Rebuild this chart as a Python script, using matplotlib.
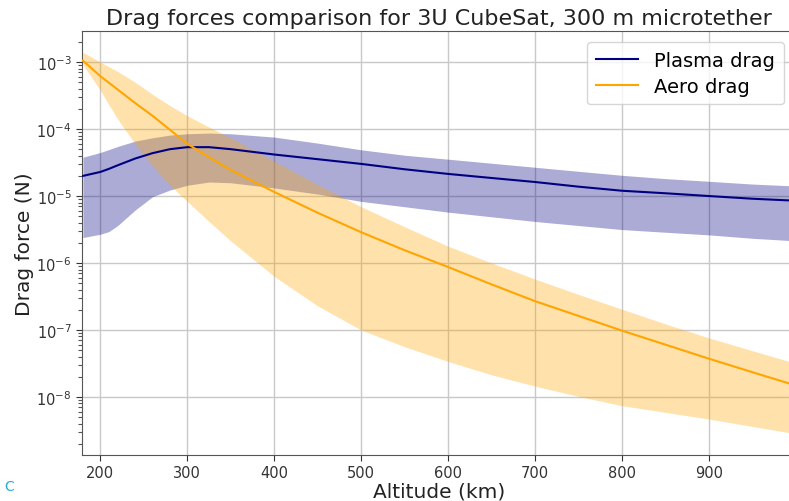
import numpy as np
import matplotlib
matplotlib.use("Agg")
import matplotlib.pyplot as plt
from matplotlib.ticker import FixedLocator, NullFormatter

altitude = [180, 200, 210, 220, 240, 260, 280, 300, 325, 350, 400, 450, 500,
            550, 600, 650, 700, 750, 800, 850, 900, 950, 1000]

plasma_mid = [2.00e-5, 2.29e-5, 2.55e-5, 2.88e-5, 3.63e-5, 4.37e-5, 5.01e-5, 5.37e-5, 5.37e-5,
              5.01e-5, 4.17e-5, 3.55e-5, 3.02e-5, 2.51e-5, 2.14e-5, 1.86e-5, 1.62e-5,
              1.38e-5, 1.20e-5, 1.10e-5, 1.00e-5, 9.12e-6, 8.51e-6]
plasma_high = [3.80e-5, 4.47e-5, 4.95e-5, 5.50e-5, 6.61e-5, 7.41e-5, 8.13e-5, 8.51e-5, 8.71e-5,
               8.51e-5, 7.59e-5, 6.17e-5, 4.90e-5, 4.07e-5, 3.55e-5, 3.09e-5, 2.69e-5,
               2.34e-5, 2.04e-5, 1.82e-5, 1.66e-5, 1.51e-5, 1.41e-5]
plasma_low = [2.40e-6, 2.69e-6, 2.95e-6, 3.63e-6, 6.17e-6, 9.77e-6, 1.23e-5, 1.45e-5, 1.62e-5,
              1.58e-5, 1.32e-5, 1.07e-5, 8.32e-6, 6.92e-6, 5.75e-6, 4.90e-6, 4.17e-6,
              3.63e-6, 3.16e-6, 2.88e-6, 2.63e-6, 2.34e-6, 2.14e-6]

aero_mid = [1.05e-3, 6.17e-4, 4.90e-4, 3.89e-4, 2.45e-4, 1.58e-4, 9.77e-5, 6.03e-5, 3.80e-5,
            2.45e-5, 1.15e-5, 5.62e-6, 2.88e-6, 1.55e-6, 8.71e-7, 4.79e-7, 2.69e-7,
            1.62e-7, 9.77e-8, 6.03e-8, 3.72e-8, 2.34e-8, 1.48e-8]
aero_high = [1.41e-3, 1.00e-3, 8.51e-4, 7.24e-4, 5.01e-4, 3.31e-4, 2.24e-4, 1.58e-4, 1.07e-4,
             7.41e-5, 3.31e-5, 1.48e-5, 6.92e-6, 3.47e-6, 1.78e-6, 1.00e-6, 5.75e-7,
             3.39e-7, 2.04e-7, 1.23e-7, 7.59e-8, 4.90e-8, 3.16e-8]
aero_low = [9.12e-4, 3.80e-4, 2.29e-4, 1.41e-4, 6.03e-5, 2.82e-5, 1.45e-5, 8.32e-6, 4.17e-6,
            2.14e-6, 6.31e-7, 2.29e-7, 1.00e-7, 5.62e-8, 3.39e-8, 2.14e-8, 1.45e-8,
            1.02e-8, 7.41e-9, 5.89e-9, 4.68e-9, 3.63e-9, 2.82e-9]

x_ticks = [200, 300, 400, 500, 600, 700, 800, 900]
y_decades = list(range(-10, -1))

plt.rcParams['font.family'] = ['DejaVu Sans']

fig = plt.figure(figsize=(7.89, 5.02), dpi=100)
ax = fig.add_axes([0.104, 0.0916, 1.009 - 0.104, 0.936 - 0.0916])

ax.plot(altitude, plasma_mid, color='navy', lw=1.5, label='Plasma drag', zorder=3)
ax.fill_between(altitude, plasma_low, plasma_high, color='navy', alpha=0.33, lw=0, zorder=2)
ax.plot(altitude, aero_mid, color='orange', lw=1.5, label='Aero drag', zorder=3)
ax.fill_between(altitude, aero_low, aero_high, color='orange', alpha=0.33, lw=0, zorder=2)

ax.set_yscale('log')
ax.set_xlim(179, 1000)
ax.set_ylim(1.36e-9, 2.9e-3)
ax.set_xticks(x_ticks)
minor_pos = [m * 10.0 ** e for e in y_decades for m in range(2, 10)]
ax.yaxis.set_minor_locator(FixedLocator(minor_pos))
ax.yaxis.set_minor_formatter(NullFormatter())
ax.grid(True, which='major', color='#c8c8c8', lw=1.0, zorder=0)
ax.set_axisbelow(True)
for s in ax.spines.values():
    s.set_color('#555555')
ax.tick_params(colors='#333333', labelsize=10.5)
ax.tick_params(which='major', length=4)
ax.tick_params(axis='y', which='minor', length=3, width=0.8, color='#555555', left=True)

ax.set_title('Drag forces comparison for 3U CubeSat, 300 m microtether', fontsize=16,
             color='#222222', pad=5)
ax.set_xlabel('Altitude (km)', fontsize=14.5, color='#222222', labelpad=1)
ax.set_ylabel('Drag force (N)', fontsize=14.5, color='#222222', labelpad=2)

leg = ax.legend(loc='upper right', bbox_to_anchor=(0.996, 0.997), fontsize=14,
                frameon=True, framealpha=0.8, edgecolor='#cccccc', handlelength=2.2,
                borderpad=0.45, labelspacing=0.35)

fig.text(0.005, 0.022, 'C', color='#29a8d8', fontsize=10)

fig.savefig('out.png', dpi=100)
